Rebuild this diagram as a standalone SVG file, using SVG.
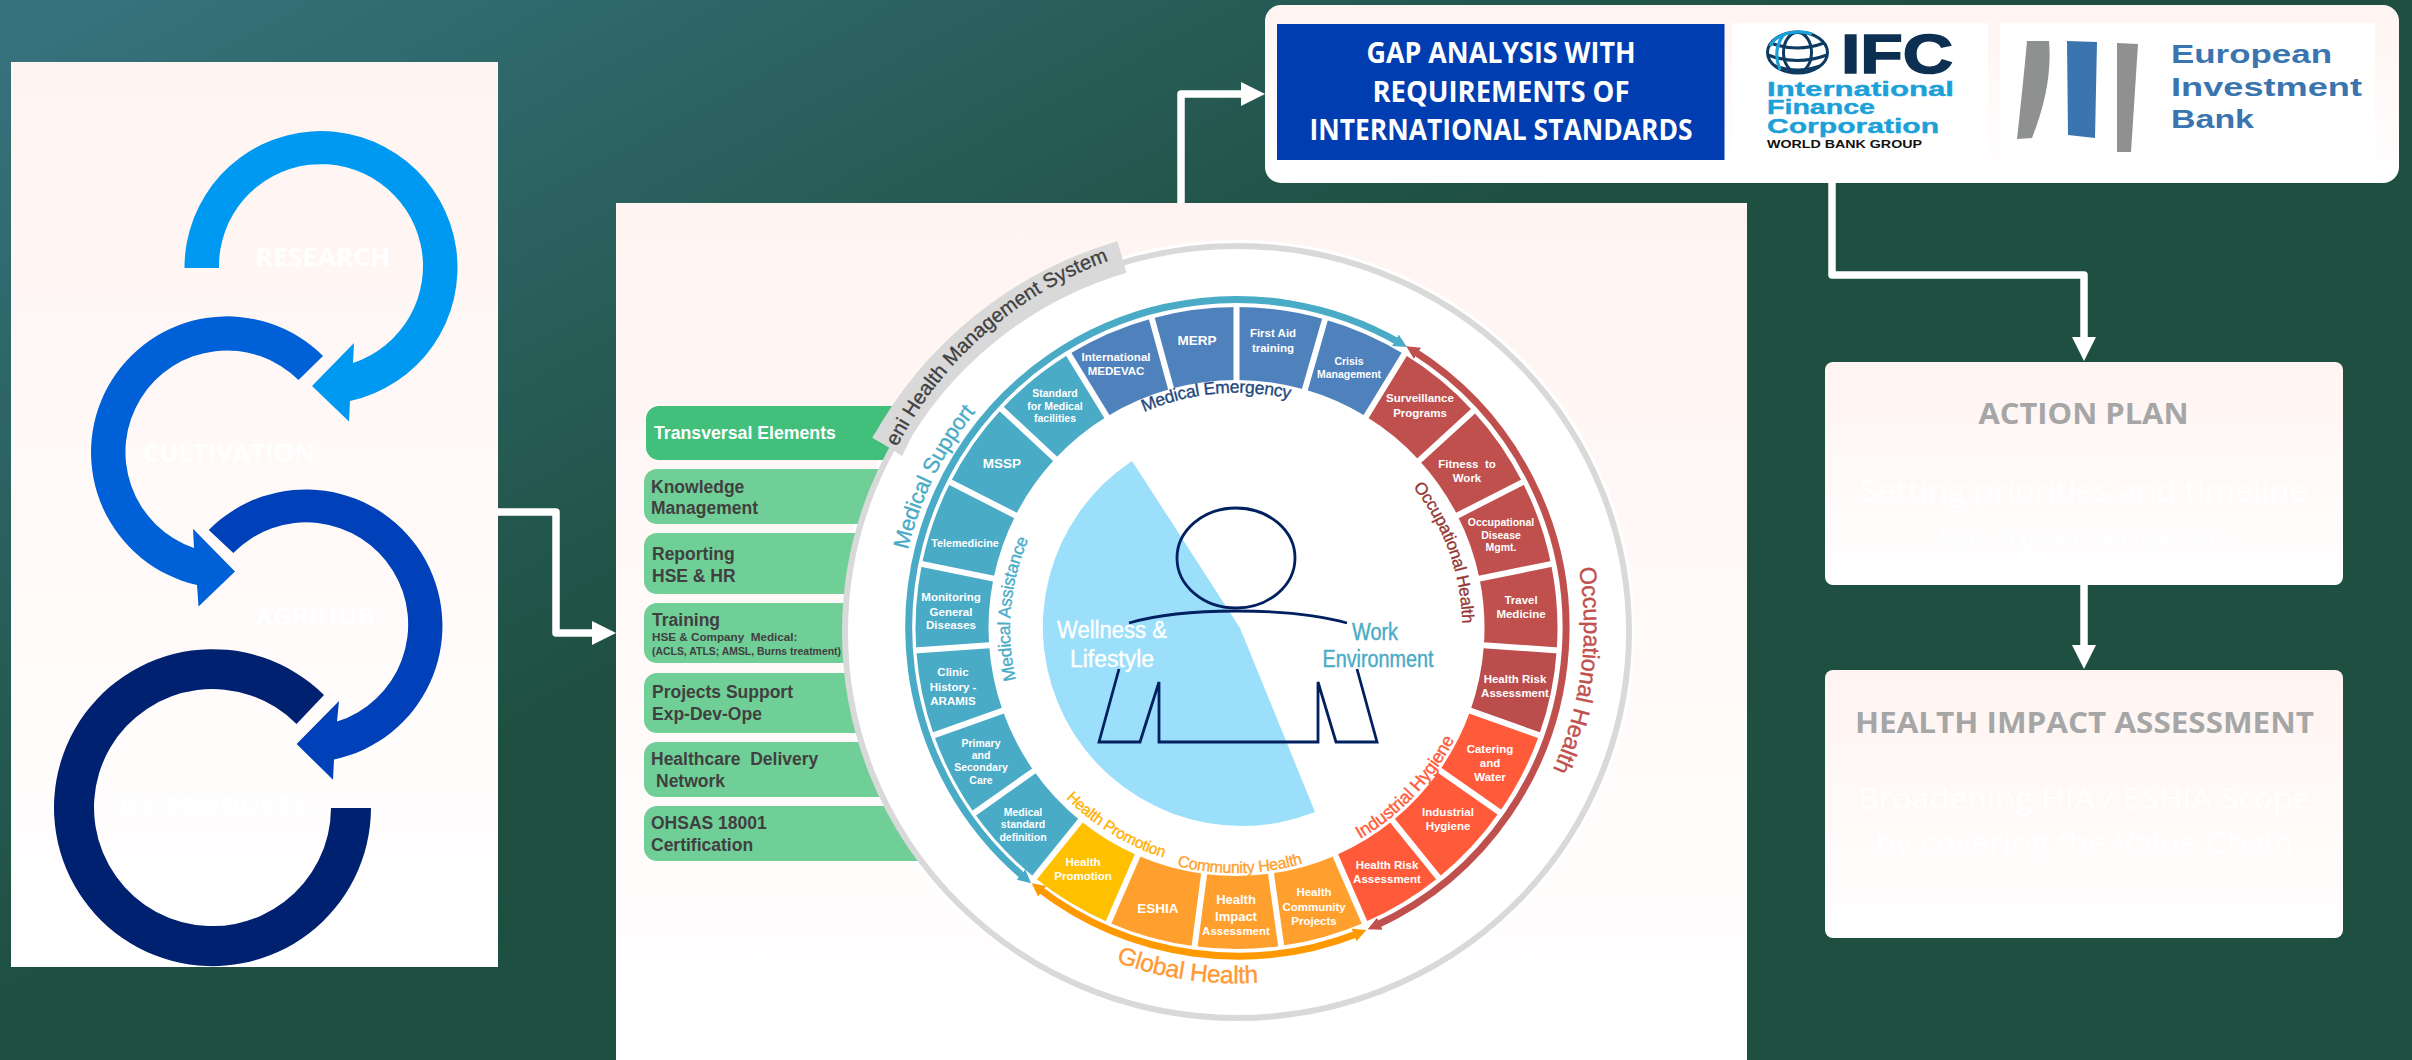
<svg xmlns="http://www.w3.org/2000/svg" width="2412" height="1060" viewBox="0 0 2412 1060">
<style>
text{font-family:"Liberation Sans",Arial,sans-serif}
.ln{fill:none;stroke:#fff;stroke-width:7.5;stroke-linejoin:round}
.cell{fill:none;stroke-width:73}
.ct{font-weight:700;font-size:11.5px;fill:#fff;text-anchor:middle}
.s10{font-size:10.5px}
.s13{font-size:13.5px}
.gt{font-weight:700;font-size:17.5px;fill:#404040}
.gb{fill:#70CF97}
.os{font-family:"Open Sans","Liberation Sans",sans-serif;text-anchor:middle}
.wh{font-size:30px;fill:#fff}
.hd{font-size:29px;font-weight:700;fill:#A6A6A6}
.lb{font-size:25px;font-weight:700;fill:#fff}
.gap{font-size:28px;font-weight:700;fill:#fff}
.cur{letter-spacing:-.3px;stroke-width:.35px}
.arc{fill:none;stroke-width:7}
.bank{font-size:26px;font-weight:700;fill:#3A75B0}
.ifc{font-weight:700;font-size:21px;fill:#1BA0D8;stroke:#1BA0D8;stroke-width:.4px}
.bd{fill:none;stroke:#002060;stroke-width:2.8}
.sep{stroke:#fff;stroke-width:6}
</style>
<defs>
<linearGradient id="bg" gradientUnits="userSpaceOnUse" x1="200" y1="-50" x2="600" y2="700"><stop offset="0" stop-color="#36727C"/><stop offset="1" stop-color="#1E4F40"/></linearGradient>
<linearGradient id="pn" x1="0" y1="0" x2="0" y2="1"><stop offset="0" stop-color="#FFF4F1"/><stop offset="1" stop-color="#FFFFFF"/></linearGradient>
<marker id="ah" markerUnits="userSpaceOnUse" markerWidth="24" markerHeight="24" viewBox="0 0 24 24" refX="4" refY="12" orient="auto"><path d="M0 0L24 12L0 24z" fill="#fff"/></marker>
<marker id="mt" markerWidth="1.9" markerHeight="1.9" viewBox="0 0 10 10" refX="4" refY="5" orient="auto-start-reverse"><path d="M0 0L10 5L0 10z" fill="#4AABC6"/></marker>
<marker id="mr" markerWidth="1.9" markerHeight="1.9" viewBox="0 0 10 10" refX="4" refY="5" orient="auto-start-reverse"><path d="M0 0L10 5L0 10z" fill="#C0504D"/></marker>
<marker id="mo" markerWidth="1.9" markerHeight="1.9" viewBox="0 0 10 10" refX="4" refY="5" orient="auto-start-reverse"><path d="M0 0L10 5L0 10z" fill="#FF9900"/></marker>
<path id="pEni" d="M897 447 A387 382 0 0 1 1170 244"/>
<path id="pME" d="M1144 412 A235 235 0 0 1 1330 412"/>
<path id="pOH" d="M1413 487 A226 226 0 0 1 1460 660"/>
<path id="pMA" d="M1016 680 A226 226 0 0 1 1100 448"/>
<path id="pMS" d="M908 550 A339 339 0 0 1 1060 338"/>
<path id="pOO" d="M1579 568 A346 346 0 0 1 1510 840"/>
<path id="pIH" d="M1360 839 A245 245 0 0 0 1478 670"/>
<path id="pCH" d="M1177 866 A245 245 0 0 0 1390 818"/>
<path id="pHP" d="M1066 798 A241 241 0 0 0 1236 869"/>
<path id="pGH" d="M1116 962 A355 355 0 0 0 1340 968"/>
</defs>
<rect width="2412" height="1060" fill="url(#bg)"/>

<g id="value-chain">
<rect x="11" y="62" width="487" height="905" fill="url(#pn)"/>
<path fill="#0099F2" d="M184.5 268A136.5 136.5 0 1 1 350 401L349 421.5L312 386L354 343L353 363A102 102 0 1 0 219 268Z"/>
<path fill="#0060D8" d="M323 356A136 136 0 1 0 197 585L198.5 606.5L235 571.5L193 528.7L194 548A101.5 101.5 0 1 1 298.5 380Z"/>
<path fill="#0040B8" d="M208.8 530A136.5 136.5 0 1 1 334 759.5L333 779.7L296.6 744L339 701L337 721.6A102 102 0 1 0 233.3 553Z"/>
<path fill="#002070" d="M324 695A158.5 158.5 0 1 0 371 808L331 808A118.5 118.5 0 1 1 296.5 724Z"/>
<text class="os lb" x="323" y="266" textLength="135" lengthAdjust="spacingAndGlyphs">RESEARCH</text>
<text class="os lb" x="229" y="462" textLength="172" lengthAdjust="spacingAndGlyphs">CULTIVATION</text>
<text class="os lb" x="315" y="625" textLength="120" lengthAdjust="spacingAndGlyphs">AGRIHUB</text>
<text class="os lb" x="214" y="815" textLength="188" lengthAdjust="spacingAndGlyphs">BY-PRODUCTS</text>
</g>

<g id="connectors">
<path class="ln" d="M498 512H556V633H596" marker-end="url(#ah)"/>
<path class="ln" d="M1181 203V94H1245" marker-end="url(#ah)"/>
<path class="ln" d="M1832 183V275H2084V341" marker-end="url(#ah)"/>
<path class="ln" d="M2084 585V649" marker-end="url(#ah)"/>
</g>

<g id="panel">
<rect x="616" y="203" width="1131" height="857" fill="url(#pn)"/>
<ellipse cx="1237" cy="632" rx="398" ry="392" fill="#fff"/>
</g>

<g id="transversal">
<rect x="646" y="406" width="300" height="54" rx="13" fill="#41BF7B"/>
<text x="654" y="439" font-size="17.7" font-weight="700" fill="#fff">Transversal Elements</text>
</g>
<g id="knowledge"><rect class="gb" x="644" y="469" width="300" height="55" rx="13"/><text class="gt" x="651" y="493">Knowledge</text><text class="gt" x="651" y="514">Management</text></g>
<g id="reporting"><rect class="gb" x="644" y="533" width="300" height="61" rx="13"/><text class="gt" x="652" y="560">Reporting</text><text class="gt" x="652" y="582">HSE &amp; HR</text></g>
<g id="training"><rect class="gb" x="644" y="603" width="300" height="60" rx="13"/><text class="gt" x="652" y="626">Training</text><text x="652" y="641" font-size="11.7" font-weight="700" fill="#404040" xml:space="preserve">HSE &amp; Company  Medical:</text><text x="652" y="655" font-size="10.5" font-weight="700" fill="#404040" textLength="189" lengthAdjust="spacingAndGlyphs">(ACLS, ATLS; AMSL, Burns treatment)</text></g>
<g id="projects"><rect class="gb" x="644" y="673" width="300" height="60" rx="13"/><text class="gt" x="652" y="698">Projects Support</text><text class="gt" x="652" y="720">Exp-Dev-Ope</text></g>
<g id="healthcare"><rect class="gb" x="644" y="742" width="300" height="55" rx="13"/><text class="gt" x="651" y="765" xml:space="preserve">Healthcare  Delivery</text><text class="gt" x="656" y="787">Network</text></g>
<g id="ohsas"><rect class="gb" x="644" y="806" width="400" height="55" rx="13"/><text class="gt" x="651" y="829">OHSAS 18001</text><text class="gt" x="651" y="851">Certification</text></g>

<g id="wheel-base">
<ellipse cx="1237" cy="632" rx="392" ry="386" fill="#fff" stroke="#D9D9D9" stroke-width="6"/>
<path d="M887 446A395 390 0 0 1 1122 257" fill="none" stroke="#D9D9D9" stroke-width="33"/>
<path d="M892 408L872.5 437L902 456L912 436Z" fill="#D9D9D9"/>
<text font-size="20.3" fill="#404040" stroke="#404040" stroke-width=".3"><textPath href="#pEni">eni Health Management System</textPath></text>
</g>

<g id="core">
<path d="M1240 628L1132 461A199 199 0 0 0 1315 812Z" fill="#9BDFFA"/>
<ellipse class="bd" cx="1236" cy="558" rx="59" ry="50"/>
<path class="bd" d="M1129 623Q1170 611 1236 611Q1305 611 1347 623"/>
<path class="bd" d="M1119 669L1099 742H1140L1159 682V742H1318V682L1336 742H1377L1357 669"/>
<g font-size="23" stroke-width=".4">
<text x="1112" y="638" fill="#fff" stroke="#fff" text-anchor="middle" textLength="110" lengthAdjust="spacingAndGlyphs">Wellness &amp;</text>
<text x="1112" y="667" fill="#fff" stroke="#fff" text-anchor="middle" textLength="84" lengthAdjust="spacingAndGlyphs">Lifestyle</text>
<text x="1375" y="640" fill="#4AABC6" stroke="#4AABC6" text-anchor="middle" textLength="46" lengthAdjust="spacingAndGlyphs">Work</text>
<text x="1378" y="667" fill="#4AABC6" stroke="#4AABC6" text-anchor="middle" textLength="111" lengthAdjust="spacingAndGlyphs">Environment</text>
</g>
</g>

<g id="arcs">
<path class="arc" stroke="#4AABC6" marker-start="url(#mt)" marker-end="url(#mt)" d="M1025 878A328 328 0 0 1 1400 343"/>
<path class="arc" stroke="#C0504D" marker-start="url(#mr)" marker-end="url(#mr)" d="M1413 350.5A328 328 0 0 1 1375 926"/>
<path class="arc" stroke="#FF9900" marker-start="url(#mo)" marker-end="url(#mo)" d="M1359 933A328 328 0 0 1 1038 888"/>
</g>

<g id="segments">
<g id="seg-medevac"><circle class="cell" r="284.5" pathLength="360" stroke-dasharray="16.2 343.8" stroke="#4F81BD" transform="translate(1236.5 628) rotate(238.5)"/><text class="ct" x="1116" y="361">International</text><text class="ct" x="1116" y="375">MEDEVAC</text></g>
<g id="seg-merp"><circle class="cell" r="284.5" pathLength="360" stroke-dasharray="15.3 344.7" stroke="#4F81BD" transform="translate(1236.5 628) rotate(254.7)"/><text class="ct s13" x="1197" y="345">MERP</text></g>
<g id="seg-firstaid"><circle class="cell" r="284.5" pathLength="360" stroke-dasharray="16 344" stroke="#4F81BD" transform="translate(1236.5 628) rotate(-90)"/><text class="ct" x="1273" y="337">First Aid</text><text class="ct" x="1273" y="352">training</text></g>
<g id="seg-crisis"><circle class="cell" r="284.5" pathLength="360" stroke-dasharray="15.5 344.5" stroke="#4F81BD" transform="translate(1236.5 628) rotate(-74)"/><text class="ct s10" x="1349" y="365">Crisis</text><text class="ct s10" x="1349" y="378">Management</text></g>
<g id="seg-surv"><circle class="cell" r="284.5" pathLength="360" stroke-dasharray="16 344" stroke="#C0504D" transform="translate(1236.5 628) rotate(-58.5)"/><text class="ct" x="1420" y="402">Surveillance</text><text class="ct" x="1420" y="417">Programs</text></g>
<g id="seg-fitness"><circle class="cell" r="284.5" pathLength="360" stroke-dasharray="15.5 344.5" stroke="#C0504D" transform="translate(1236.5 628) rotate(-42.5)"/><text class="ct" x="1467" y="468" xml:space="preserve">Fitness  to</text><text class="ct" x="1467" y="482">Work</text></g>
<g id="seg-occ"><circle class="cell" r="284.5" pathLength="360" stroke-dasharray="15.5 344.5" stroke="#C0504D" transform="translate(1236.5 628) rotate(-27)"/><text class="ct s10" x="1501" y="526">Occupational</text><text class="ct s10" x="1501" y="539">Disease</text><text class="ct s10" x="1501" y="551">Mgmt.</text></g>
<g id="seg-travel"><circle class="cell" r="284.5" pathLength="360" stroke-dasharray="15.5 344.5" stroke="#C0504D" transform="translate(1236.5 628) rotate(-11.5)"/><text class="ct" x="1521" y="604">Travel</text><text class="ct" x="1521" y="618">Medicine</text></g>
<g id="seg-hra"><circle class="cell" r="284.5" pathLength="360" stroke-dasharray="15.5 344.5" stroke="#BB4D4D" transform="translate(1236.5 628) rotate(4)"/><text class="ct" x="1515" y="683">Health Risk</text><text class="ct" x="1515" y="697">Assessment</text></g>
<g id="seg-catering"><circle class="cell" r="284.5" pathLength="360" stroke-dasharray="15.5 344.5" stroke="#FF5B3A" transform="translate(1236.5 628) rotate(19.5)"/><text class="ct" x="1490" y="753">Catering</text><text class="ct" x="1490" y="767">and</text><text class="ct" x="1490" y="781">Water</text></g>
<g id="seg-ih"><circle class="cell" r="284.5" pathLength="360" stroke-dasharray="16 344" stroke="#FF5B3A" transform="translate(1236.5 628) rotate(35)"/><text class="ct" x="1448" y="816">Industrial</text><text class="ct" x="1448" y="830">Hygiene</text></g>
<g id="seg-hra2"><circle class="cell" r="284.5" pathLength="360" stroke-dasharray="15.5 344.5" stroke="#FF5B3A" transform="translate(1236.5 628) rotate(51)"/><text class="ct" x="1387" y="869">Health Risk</text><text class="ct" x="1387" y="883">Assessment</text></g>
<g id="seg-hcp"><circle class="cell" r="284.5" pathLength="360" stroke-dasharray="15.5 344.5" stroke="#FFA02E" transform="translate(1236.5 628) rotate(66.5)"/><text class="ct" x="1314" y="896">Health</text><text class="ct" x="1314" y="911">Community</text><text class="ct" x="1314" y="925">Projects</text></g>
<g id="seg-hia"><circle class="cell" r="284.5" pathLength="360" stroke-dasharray="15.5 344.5" stroke="#FFA02E" transform="translate(1236.5 628) rotate(82)"/><text class="ct" x="1236" y="904" style="font-size:13px">Health</text><text class="ct" x="1236" y="921" style="font-size:13px">Impact</text><text class="ct" x="1236" y="935">Assessment</text></g>
<g id="seg-eshia"><circle class="cell" r="284.5" pathLength="360" stroke-dasharray="16 344" stroke="#FFA02E" transform="translate(1236.5 628) rotate(97.5)"/><text class="ct s13" x="1158" y="913">ESHIA</text></g>
<g id="seg-hp"><circle class="cell" r="284.5" pathLength="360" stroke-dasharray="15.5 344.5" stroke="#FFC000" transform="translate(1236.5 628) rotate(113.5)"/><text class="ct" x="1083" y="866">Health</text><text class="ct" x="1083" y="880">Promotion</text></g>
<g id="seg-std"><circle class="cell" r="284.5" pathLength="360" stroke-dasharray="15.8 344.2" stroke="#4AABC6" transform="translate(1236.5 628) rotate(129)"/><text class="ct s10" x="1023" y="816">Medical</text><text class="ct s10" x="1023" y="828">standard</text><text class="ct s10" x="1023" y="841">definition</text></g>
<g id="seg-primary"><circle class="cell" r="284.5" pathLength="360" stroke-dasharray="15.7 344.3" stroke="#4AABC6" transform="translate(1236.5 628) rotate(144.8)"/><text class="ct s10" x="981" y="747">Primary</text><text class="ct s10" x="981" y="759">and</text><text class="ct s10" x="981" y="771">Secondary</text><text class="ct s10" x="981" y="784">Care</text></g>
<g id="seg-clinic"><circle class="cell" r="284.5" pathLength="360" stroke-dasharray="15.5 344.5" stroke="#4AABC6" transform="translate(1236.5 628) rotate(160.5)"/><text class="ct" x="953" y="676">Clinic</text><text class="ct" x="953" y="691">History -</text><text class="ct" x="953" y="705">ARAMIS</text></g>
<g id="seg-monitor"><circle class="cell" r="284.5" pathLength="360" stroke-dasharray="15.5 344.5" stroke="#4AABC6" transform="translate(1236.5 628) rotate(176)"/><text class="ct" x="951" y="601">Monitoring</text><text class="ct" x="951" y="616">General</text><text class="ct" x="951" y="629">Diseases</text></g>
<g id="seg-tele"><circle class="cell" r="284.5" pathLength="360" stroke-dasharray="15.5 344.5" stroke="#4AABC6" transform="translate(1236.5 628) rotate(191.5)"/><text class="ct" x="965" y="547" style="font-size:10.8px">Telemedicine</text></g>
<g id="seg-mssp"><circle class="cell" r="284.5" pathLength="360" stroke-dasharray="16 344" stroke="#4AABC6" transform="translate(1236.5 628) rotate(207)"/><text class="ct s13" x="1002" y="468">MSSP</text></g>
<g id="seg-facilities"><circle class="cell" r="284.5" pathLength="360" stroke-dasharray="15.5 344.5" stroke="#4AABC6" transform="translate(1236.5 628) rotate(223)"/><text class="ct s10" x="1055" y="397">Standard</text><text class="ct s10" x="1055" y="410">for Medical</text><text class="ct s10" x="1055" y="422">facilities</text></g>
</g>

<g id="separators" transform="translate(1236.5 628)">
<line class="sep" x1="244" x2="323" transform="rotate(238.5)"/><line class="sep" x1="244" x2="323" transform="rotate(254.7)"/><line class="sep" x1="244" x2="323" transform="rotate(-90)"/><line class="sep" x1="244" x2="323" transform="rotate(-74)"/><line class="sep" x1="244" x2="323" transform="rotate(-58.5)"/><line class="sep" x1="244" x2="323" transform="rotate(-42.5)"/><line class="sep" x1="244" x2="323" transform="rotate(-27)"/><line class="sep" x1="244" x2="323" transform="rotate(-11.5)"/><line class="sep" x1="244" x2="323" transform="rotate(4)"/><line class="sep" x1="244" x2="323" transform="rotate(19.5)"/><line class="sep" x1="244" x2="323" transform="rotate(35)"/><line class="sep" x1="244" x2="323" transform="rotate(51)"/><line class="sep" x1="244" x2="323" transform="rotate(66.5)"/><line class="sep" x1="244" x2="323" transform="rotate(82)"/><line class="sep" x1="244" x2="323" transform="rotate(97.5)"/><line class="sep" x1="244" x2="323" transform="rotate(113.5)"/><line class="sep" x1="244" x2="323" transform="rotate(129)"/><line class="sep" x1="244" x2="323" transform="rotate(144.8)"/><line class="sep" x1="244" x2="323" transform="rotate(160.5)"/><line class="sep" x1="244" x2="323" transform="rotate(176)"/><line class="sep" x1="244" x2="323" transform="rotate(191.5)"/><line class="sep" x1="244" x2="323" transform="rotate(207)"/><line class="sep" x1="244" x2="323" transform="rotate(223)"/>
</g>

<g id="wheel-labels">
<text class="cur" font-size="17.5" fill="#1F497D" stroke="#1F497D"><textPath href="#pME">Medical Emergency</textPath></text>
<text class="cur" font-size="17" fill="#953735" stroke="#953735"><textPath href="#pOH">Occupational Health</textPath></text>
<text class="cur" font-size="17.5" fill="#4AABC6" stroke="#4AABC6"><textPath href="#pMA">Medical Assistance</textPath></text>
<text class="cur" font-size="22" fill="#4AABC6" stroke="#4AABC6"><textPath href="#pMS">Medical Support</textPath></text>
<text class="cur" font-size="23.5" fill="#C0504D" stroke="#C0504D"><textPath href="#pOO">Occupational Health</textPath></text>
<text class="cur" font-size="18" fill="#FF5B3A" stroke="#FF5B3A"><textPath href="#pIH">Industrial Hygiene</textPath></text>
<text class="cur" font-size="16" fill="#FFA02E" stroke="#FFA02E"><textPath href="#pCH">Community Health</textPath></text>
<text class="cur" font-size="15.5" fill="#FFB000" stroke="#FFB000"><textPath href="#pHP">Health Promotion</textPath></text>
<text class="cur" font-size="24.5" fill="#FF9933" stroke="#FF9933"><textPath href="#pGH">Global Health</textPath></text>
</g>

<g id="gap-box">
<rect x="1265" y="5" width="1134" height="178" rx="16" fill="url(#pn)"/>
<rect x="1277" y="24" width="447.5" height="136" fill="#003DB0"/>
<text class="os gap" x="1501" y="63" textLength="269" lengthAdjust="spacingAndGlyphs">GAP ANALYSIS WITH</text>
<text class="os gap" x="1501" y="102" textLength="257" lengthAdjust="spacingAndGlyphs">REQUIREMENTS OF</text>
<text class="os gap" x="1501" y="140" textLength="383" lengthAdjust="spacingAndGlyphs">INTERNATIONAL STANDARDS</text>
<g id="ifc-logo">
<rect x="1732" y="23" width="256" height="132" fill="#fff"/>
<g fill="none" stroke="#0D3A60" stroke-width="3">
<ellipse cx="1797.5" cy="52.5" rx="30" ry="20.5"/>
<ellipse cx="1797.5" cy="52.5" rx="14" ry="20"/>
<path d="M1771 43Q1797 53 1824 43M1768 55Q1797 66 1827 55M1775 66Q1797 74 1820 66"/>
</g>
<path d="M1770 46A30 20 0 0 1 1812 34M1784 34Q1772 50 1780 70" fill="none" stroke="#1BA0D8" stroke-width="3.2"/>
<text x="1841" y="72.7" font-size="56" font-weight="700" fill="#0D2F52" stroke="#0D2F52" stroke-width="1.6" textLength="112" lengthAdjust="spacingAndGlyphs">IFC</text>
<text class="ifc" x="1767" y="96" textLength="187" lengthAdjust="spacingAndGlyphs">International</text>
<text class="ifc" x="1767" y="114.3" textLength="108" lengthAdjust="spacingAndGlyphs">Finance</text>
<text class="ifc" x="1767" y="132.7" textLength="172" lengthAdjust="spacingAndGlyphs">Corporation</text>
<text x="1767" y="148" font-size="11.5" font-weight="700" fill="#111" textLength="155" lengthAdjust="spacingAndGlyphs">WORLD BANK GROUP</text>
</g>
<g id="eib-logo">
<rect x="2000" y="23" width="375" height="140" fill="#fff"/>
<path d="M2027 41H2049Q2053 85 2032 138L2017 139Q2023 85 2027 41Z" fill="#8E918F"/>
<path d="M2067 41L2097 42L2095 138L2068 135Z" fill="#3A75B0"/>
<path d="M2117 43L2138 44L2131 152H2117Z" fill="#8E918F"/>
<text class="bank" x="2171" y="63" textLength="161" lengthAdjust="spacingAndGlyphs">European</text>
<text class="bank" x="2171" y="96" textLength="191" lengthAdjust="spacingAndGlyphs">Investment</text>
<text class="bank" x="2171" y="128" textLength="83" lengthAdjust="spacingAndGlyphs">Bank</text>
</g>
</g>

<g id="action-plan">
<rect x="1825" y="362" width="518" height="223" rx="8" fill="url(#pn)"/>
<text class="os hd" x="2083.5" y="424" textLength="210" lengthAdjust="spacingAndGlyphs">ACTION PLAN</text>
<text class="os wh" x="2084" y="501" textLength="448" lengthAdjust="spacingAndGlyphs">Setting priorities and timeline</text>
<text class="os wh" x="2083" y="545.5" textLength="291" lengthAdjust="spacingAndGlyphs">for implementation</text>
</g>
<g id="hia">
<rect x="1825" y="670" width="518" height="268" rx="8" fill="url(#pn)"/>
<text class="os hd" x="2084.5" y="732.5" textLength="459" lengthAdjust="spacingAndGlyphs">HEALTH IMPACT ASSESSMENT</text>
<text class="os wh" x="2084.5" y="809" textLength="453" lengthAdjust="spacingAndGlyphs">Broadening HIA / ESHIA Scope</text>
<text class="os wh" x="2084.5" y="853" textLength="417" lengthAdjust="spacingAndGlyphs">by covering the Value Chain</text>
</g>
</svg>
